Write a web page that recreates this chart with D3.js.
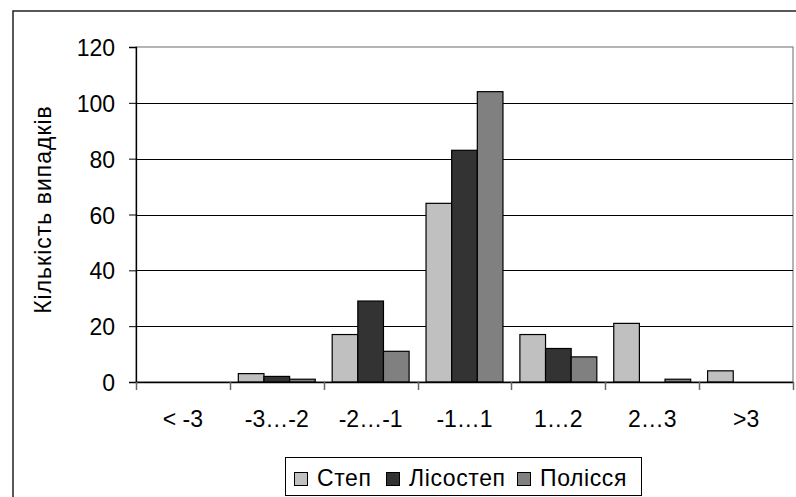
<!DOCTYPE html>
<html><head><meta charset="utf-8">
<script src="https://cdn.jsdelivr.net/npm/d3@7/dist/d3.min.js"></script>
<style>body{margin:0;background:#fff}svg{display:block}text{font-family:"Liberation Sans",Arial,sans-serif;fill:#000}</style>
</head><body><svg id="c" width="796" height="497"></svg>
<script>
const categories = ["< -3", "-3…-2", "-2…-1", "-1…1", "1…2", "2…3", ">3"];
const seriesNames = ["Степ", "Лісостеп", "Полісся"];
const step = [0, 3, 17, 64, 17, 21, 4];
const lisostep = [0, 2, 29, 83, 12, 0, 0];
const polissia = [0, 1, 11, 104, 9, 1, 0];
const yTicks = [0, 20, 40, 60, 80, 100, 120];
const colors = ["#c0c0c0", "#333333", "#808080"];

const series = [step, lisostep, polissia];
const svg = d3.select("#c");
const m = {l: 136, t: 47, r: 793, b: 382};
const fs = 23;

svg.append("rect").attr("x", 13).attr("y", 11).attr("width", 800).attr("height", 500)
  .attr("fill", "#fff").attr("stroke", "#222").attr("stroke-width", 1.5);

const x = d3.scaleBand().domain(categories).range([m.l, m.r]).paddingInner(0).paddingOuter(0);
const x1 = d3.scaleBand().domain(seriesNames).range([0, x.bandwidth()]).paddingOuter(0.33);
const y = d3.scaleLinear().domain([0, 120]).range([m.b, m.t]);

// plot border (gray)
svg.append("rect").attr("x", m.l).attr("y", m.t).attr("width", m.r - m.l).attr("height", m.b - m.t)
  .attr("fill", "none").attr("stroke", "#8c8c8c").attr("stroke-width", 1.3);

// gridlines
svg.append("g").selectAll("line").data(yTicks.filter(d => d > 0 && d < 120)).join("line")
  .attr("x1", m.l).attr("x2", m.r).attr("y1", d => Math.round(y(d)) + 0.5).attr("y2", d => Math.round(y(d)) + 0.5)
  .attr("stroke", "#000").attr("stroke-width", 1);

// bars
const g = svg.append("g");
seriesNames.forEach((s, si) => {
  g.append("g").selectAll("rect").data(categories).join("rect")
    .attr("x", (c) => x(c) + x1(s))
    .attr("width", x1.bandwidth())
    .attr("y", (c, i) => y(series[si][i]))
    .attr("height", (c, i) => y(0) - y(series[si][i]))
    .attr("fill", colors[si]).attr("stroke", "#000").attr("stroke-width", 1.2)
    .attr("display", (c, i) => series[si][i] > 0 ? null : "none");
});

// y axis
const ya = d3.axisLeft(y).tickValues(yTicks).tickSize(7).tickPadding(14).tickFormat(d3.format("d"));
const yg = svg.append("g").attr("transform", `translate(${m.l},0)`).call(ya);
yg.select(".domain").attr("stroke", "#000").attr("stroke-width", 1.3);
yg.selectAll(".tick line").attr("stroke", "#000");
yg.selectAll("text").style("font-size", fs + "px").attr("fill", "#000").attr("dy", "0.37em");

// x axis
const xa = d3.axisBottom(x).tickSize(0).tickPadding(28);
const xg = svg.append("g").attr("transform", `translate(0,${m.b})`).call(xa);
xg.select(".domain").attr("stroke", "#000").attr("stroke-width", 1.3);
xg.selectAll("text").style("font-size", fs + "px").attr("fill", "#000").attr("dy", "0.72em");
// category boundary ticks
const bounds = categories.map(c => x(c)).concat([x.range()[1]]);
xg.append("g").selectAll("line").data(bounds).join("line")
  .attr("x1", d => Math.round(d) + 0.5).attr("x2", d => Math.round(d) + 0.5).attr("y1", 0).attr("y2", 8)
  .attr("stroke", "#666").attr("stroke-width", 1.5);

// y title
svg.append("text").attr("transform", `translate(51,${(m.t + m.b) / 2 - 5}) rotate(-90)`)
  .attr("text-anchor", "middle").style("font-size", fs + "px").style("letter-spacing", "1px")
  .text("Кількість випадків");

// legend
const lg = svg.append("g");
lg.append("rect").attr("x", 285.5).attr("y", 457.5).attr("width", 356).attr("height", 38)
  .attr("fill", "#fff").attr("stroke", "#000").attr("stroke-width", 1);
const lx = [294, 386, 517];
seriesNames.forEach((s, i) => {
  lg.append("rect").attr("x", lx[i] + 0.5).attr("y", 472.5).attr("width", 13).attr("height", 13)
    .attr("fill", colors[i]).attr("stroke", "#000").attr("stroke-width", 1);
  lg.append("text").attr("x", lx[i] + 23).attr("y", 486)
    .style("font-size", fs + "px").style("letter-spacing", "0.6px").text(s);
});
</script></body></html>
